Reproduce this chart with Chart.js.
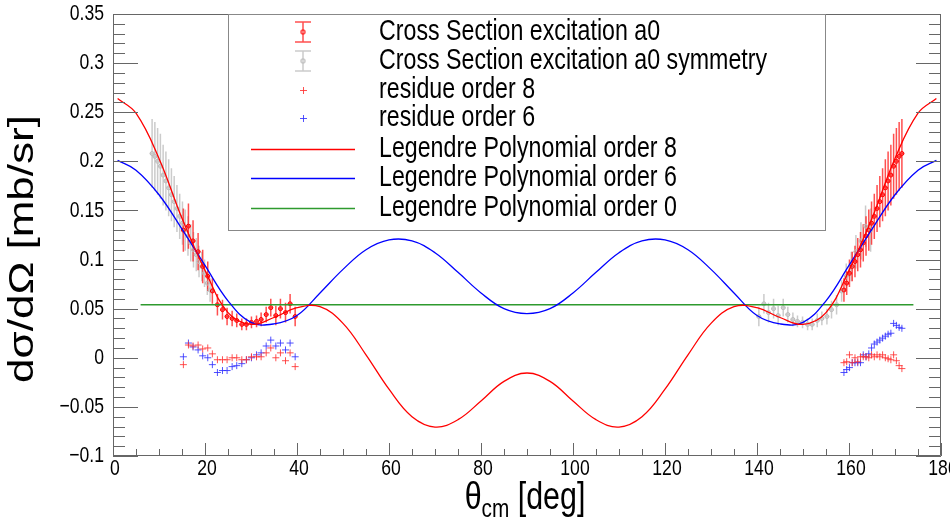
<!DOCTYPE html>
<html>
<head>
<meta charset="utf-8">
<script src="https://cdn.jsdelivr.net/npm/chart.js@4.4.0/dist/chart.umd.min.js"></script>
<style>
  html, body { margin: 0; padding: 0; background: #fff; }
</style>
</head>
<body>
<canvas id="grafico" width="950" height="520"></canvas>
<script>
// curvas de Legendre
const anguloCurva = [1, 5, 10, 15, 20, 25, 30, 35, 40, 45, 50, 55, 60, 65, 70, 75, 80, 85, 90,
  95, 100, 105, 110, 115, 120, 125, 130, 135, 140, 145, 150, 155, 160, 165, 170, 175, 179];
const legendre8 = [0.264, 0.249, 0.203, 0.142, 0.089, 0.046, 0.034, 0.041, 0.051, 0.052, 0.035, 0.003, -0.032, -0.060, -0.0705, -0.063, -0.044, -0.024, -0.0155,
  -0.024, -0.044, -0.063, -0.0705, -0.060, -0.032, 0.003, 0.035, 0.052, 0.051, 0.041, 0.034, 0.046, 0.089, 0.142, 0.203, 0.249, 0.264];
const legendre6 = [0.201, 0.191, 0.166, 0.131, 0.094, 0.058, 0.036, 0.0345, 0.043, 0.066, 0.090, 0.110, 0.120, 0.119, 0.107, 0.087, 0.066, 0.050, 0.045,
  0.050, 0.066, 0.087, 0.107, 0.119, 0.120, 0.110, 0.090, 0.066, 0.043, 0.0345, 0.036, 0.058, 0.094, 0.131, 0.166, 0.191, 0.201];
const anguloOrden0 = [6, 174];
const legendre0 = [0.054, 0.054];

// seccion eficaz, lado izquierdo
const anguloIzq = [15.3, 16.4, 17.4, 18.5, 19.5, 20.6, 21.6, 22.7, 23.8, 24.8, 25.9, 26.9,
  28.0, 29.0, 30.1, 31.2, 32.2, 33.3, 34.3, 35.4, 36.4, 37.5, 38.5, 39.6];
const seccionIzq = [0.130, 0.134, 0.119, 0.108, 0.093, 0.083, 0.068, 0.054, 0.049, 0.042, 0.040, 0.038,
  0.034, 0.034, 0.036, 0.037, 0.039, 0.044, 0.051, 0.043, 0.050, 0.046, 0.055, 0.042];
const errorIzq = [0.022, 0.023, 0.021, 0.019, 0.017, 0.015, 0.013, 0.011, 0.010, 0.009, 0.008, 0.007,
  0.006, 0.006, 0.006, 0.006, 0.007, 0.008, 0.009, 0.010, 0.010, 0.010, 0.010, 0.010];

// seccion eficaz, lado derecho
const anguloDer = [158.9, 159.5, 160.1, 160.7, 161.3, 161.9, 162.5, 163.1, 163.7, 164.3, 164.9,
  165.5, 166.1, 166.7, 167.3, 167.9, 168.5, 169.1, 169.7, 170.3, 170.9, 171.5];
const seccionDer = [0.069, 0.076, 0.086, 0.093, 0.098, 0.105, 0.110, 0.117, 0.124, 0.130, 0.137,
  0.144, 0.152, 0.159, 0.166, 0.173, 0.180, 0.186, 0.195, 0.200, 0.205, 0.208];
const errorDer = [0.012, 0.012, 0.014, 0.015, 0.016, 0.017, 0.018, 0.019, 0.020, 0.021, 0.022,
  0.023, 0.024, 0.026, 0.027, 0.029, 0.030, 0.031, 0.033, 0.034, 0.035, 0.035];

// simetria (gris)
const anguloSimIzq = [8.5, 9.1, 9.7, 10.3, 10.9, 11.5, 12.1, 12.7, 13.3, 13.9, 14.5,
  15.1, 15.7, 16.3, 16.9, 17.5, 18.1, 18.7, 19.3, 19.9, 20.5, 21.1];
const seccionSimIzq = [0.208, 0.205, 0.200, 0.195, 0.186, 0.180, 0.173, 0.166, 0.159, 0.152, 0.144,
  0.137, 0.130, 0.124, 0.117, 0.110, 0.105, 0.098, 0.093, 0.086, 0.076, 0.069];
const errorSimIzq = [0.035, 0.035, 0.034, 0.033, 0.031, 0.030, 0.029, 0.027, 0.026, 0.024, 0.023,
  0.022, 0.021, 0.020, 0.019, 0.018, 0.017, 0.016, 0.015, 0.014, 0.012, 0.012];
const anguloSimDer = [140.4, 141.5, 142.5, 143.6, 144.6, 145.7, 146.7, 147.8, 148.8, 149.9, 151.0, 152.0,
  153.1, 154.1, 155.2, 156.2, 157.3, 158.4, 159.4, 160.5, 161.5, 162.6, 163.6, 164.7];
const seccionSimDer = [0.042, 0.055, 0.046, 0.050, 0.043, 0.051, 0.044, 0.039, 0.037, 0.036, 0.034, 0.034,
  0.038, 0.040, 0.042, 0.049, 0.054, 0.068, 0.083, 0.093, 0.108, 0.119, 0.134, 0.130];
const errorSimDer = [0.010, 0.010, 0.010, 0.010, 0.010, 0.009, 0.008, 0.007, 0.006, 0.006, 0.006, 0.006,
  0.007, 0.007, 0.008, 0.009, 0.010, 0.011, 0.013, 0.015, 0.017, 0.019, 0.021, 0.022];

// residuos
const residuo8Izq = [-0.007, 0.013, 0.012, 0.013, 0.009, 0.010, 0.004, -0.002, -0.002, -0.002, 0.000, 0.000,
  -0.002, -0.002, 0.001, 0.001, 0.001, 0.005, 0.010, 0.000, 0.005, -0.003, 0.005, -0.009];
const residuo6Izq = [0.001, 0.015, 0.011, 0.008, 0.002, 0.000, -0.007, -0.015, -0.013, -0.013, -0.009, -0.008,
  -0.006, -0.002, 0.000, 0.003, 0.005, 0.012, 0.018, 0.012, 0.015, 0.008, 0.015, 0.001];
const residuo8Der = [-0.005, -0.004, 0.003, -0.005, 0.000, -0.004, 0.001, 0.001, 0.001, 0.000, 0.003,
  0.001, 0.003, 0.001, 0.003, 0.000, -0.001, -0.002, 0.003, -0.003, -0.008, -0.011];
const residuo6Der = [-0.015, -0.012, -0.010, -0.005, -0.005, -0.005, -0.005, 0.003, 0.001, 0.004, 0.010,
  0.014, 0.016, 0.018, 0.020, 0.022, 0.024, 0.025, 0.035, 0.033, 0.031, 0.030];

// ejes
const ticksX = [0, 20, 40, 60, 80, 100, 120, 140, 160, 180];
const etiquetasX = ["0", "20", "40", "60", "80", "100", "120", "140", "160", "180"];
const ticksY = [-0.1, -0.05, 0, 0.05, 0.1, 0.15, 0.2, 0.25, 0.3, 0.35];
const etiquetasY = ["\u22120.1", "\u22120.05", "0", "0.05", "0.1", "0.15", "0.2", "0.25", "0.3", "0.35"];

const leyenda = [
  "Cross Section excitation a0",
  "Cross Section excitation a0 symmetry",
  "residue order 8",
  "residue order 6",
  "Legendre Polynomial order 8",
  "Legendre Polynomial order 6",
  "Legendre Polynomial order 0",
];

const rojoBarra = "rgba(255, 20, 20, 0.75)";
const grisBarra = "rgba(190, 190, 190, 0.8)";
const rojoResiduo = "rgba(255, 50, 50, 0.85)";
const azulResiduo = "rgba(50, 50, 255, 0.85)";
const fuente = '"Liberation Sans", Arial, sans-serif';

function puntos(xs, ys) {
  return xs.map((x, i) => ({ x: x, y: ys[i] }));
}

function texto(ctx, str, x, y, size, align, girar) {
  ctx.save();
  ctx.translate(x, y);
  if (girar) {
    ctx.rotate(-Math.PI / 2);
    ctx.scale(1, 0.8);
  } else {
    ctx.scale(0.8, 1);
  }
  ctx.font = `${size}px ${fuente}`;
  ctx.textAlign = align;
  ctx.textBaseline = "middle";
  ctx.fillStyle = "#000";
  ctx.fillText(str, 0, 0);
  ctx.restore();
}

function dibujarErrores(ctx, ex, ey, angulos, valores, errores, color) {
  ctx.save();
  ctx.strokeStyle = color;
  ctx.lineWidth = 1.5;
  angulos.forEach((a, i) => {
    const px = ex.getPixelForValue(a);
    const py = ey.getPixelForValue(valores[i]);
    ctx.beginPath();
    ctx.moveTo(px, ey.getPixelForValue(valores[i] + errores[i]));
    ctx.lineTo(px, ey.getPixelForValue(valores[i] - errores[i]));
    ctx.moveTo(ex.getPixelForValue(a - 0.5), py);
    ctx.lineTo(ex.getPixelForValue(a + 0.5), py);
    ctx.stroke();
  });
  ctx.restore();
}

const estiloRoot = {
  id: "estiloRoot",
  beforeDatasetsDraw(chart) {
    const ctx = chart.ctx;
    const ex = chart.scales.x;
    const ey = chart.scales.y;
    dibujarErrores(ctx, ex, ey, anguloSimIzq, seccionSimIzq, errorSimIzq, grisBarra);
    dibujarErrores(ctx, ex, ey, anguloSimDer, seccionSimDer, errorSimDer, grisBarra);
    dibujarErrores(ctx, ex, ey, anguloIzq, seccionIzq, errorIzq, rojoBarra);
    dibujarErrores(ctx, ex, ey, anguloDer, seccionDer, errorDer, rojoBarra);
  },
  afterDraw(chart) {
    const ctx = chart.ctx;
    const ex = chart.scales.x;
    const ey = chart.scales.y;
    const area = chart.chartArea;

    // marco y ticks
    ctx.save();
    ctx.strokeStyle = "#666";
    ctx.lineWidth = 1;
    ctx.beginPath();
    ctx.rect(area.left + 0.5, area.top + 0.5, area.right - area.left - 1, area.bottom - area.top - 1);
    ctx.stroke();

    ctx.beginPath();
    for (let v = -10; v <= 35; v++) {
      const py = Math.round(ey.getPixelForValue(v / 100)) + 0.5;
      const largo = v % 5 === 0 ? 25 : 12;
      ctx.moveTo(area.left, py);
      ctx.lineTo(area.left + largo, py);
      ctx.moveTo(area.right, py);
      ctx.lineTo(area.right - largo, py);
    }
    for (let a = 0; a <= 180; a += 5) {
      const px = Math.round(ex.getPixelForValue(a)) + 0.5;
      const largo = a % 20 === 0 ? 13 : 7;
      ctx.moveTo(px, area.bottom);
      ctx.lineTo(px, area.bottom - largo);
    }
    ctx.stroke();
    ctx.restore();

    ticksY.forEach((v, i) => {
      texto(ctx, etiquetasY[i], area.left - 9, ey.getPixelForValue(v), 22, "right", false);
    });
    ticksX.forEach((v, i) => {
      texto(ctx, etiquetasX[i], ex.getPixelForValue(v) + 2, 469, 22, "center", false);
    });

    // titulo eje y
    texto(ctx, "d\u03c3/d\u03a9 [mb/sr]", 23, 249, 44, "center", true);

    // titulo eje x con subindice
    ctx.save();
    const grande = `38px ${fuente}`;
    const chico = `26px ${fuente}`;
    ctx.font = grande;
    const w1 = ctx.measureText("\u03b8").width * 0.8;
    const w3 = ctx.measureText(" [deg]").width * 0.8;
    ctx.font = chico;
    const w2 = ctx.measureText("cm").width * 0.8;
    const x0 = (area.left + area.right) / 2 - (w1 + w2 + w3) / 2 - 2;
    const base = 509;
    ctx.fillStyle = "#000";
    ctx.textBaseline = "alphabetic";
    ctx.textAlign = "left";
    const pieza = (s, f, x, y) => {
      ctx.save();
      ctx.translate(x, y);
      ctx.scale(0.8, 1);
      ctx.font = f;
      ctx.fillText(s, 0, 0);
      ctx.restore();
    };
    pieza("\u03b8", grande, x0, base);
    pieza("cm", chico, x0 + w1, base + 8);
    pieza(" [deg]", grande, x0 + w1 + w2, base);
    ctx.restore();

    // leyenda
    ctx.save();
    ctx.fillStyle = "#fff";
    ctx.fillRect(228, 14, 597, 216);
    ctx.strokeStyle = "#888";
    ctx.lineWidth = 1;
    ctx.strokeRect(228.5, 14.5, 597, 216);
    const filas = [32, 61, 90, 118, 149, 178, 208];
    const simbolos = [
      { tipo: "barra", color: rojoBarra },
      { tipo: "barra", color: grisBarra },
      { tipo: "cruz", color: rojoResiduo },
      { tipo: "cruz", color: azulResiduo },
      { tipo: "linea", color: "#ff0000" },
      { tipo: "linea", color: "#0000ff" },
      { tipo: "linea", color: "#2e9a2e" },
    ];
    simbolos.forEach((s, i) => {
      const y = filas[i];
      ctx.strokeStyle = s.color;
      ctx.beginPath();
      if (s.tipo === "barra") {
        ctx.lineWidth = 1.5;
        ctx.moveTo(303, y - 10);
        ctx.lineTo(303, y + 10);
        ctx.moveTo(295, y - 10);
        ctx.lineTo(311, y - 10);
        ctx.moveTo(295, y + 10);
        ctx.lineTo(311, y + 10);
        ctx.stroke();
        ctx.beginPath();
        ctx.arc(303, y, 2, 0, Math.PI * 2);
      } else if (s.tipo === "cruz") {
        ctx.lineWidth = 1;
        ctx.moveTo(300, y + 0.5);
        ctx.lineTo(307, y + 0.5);
        ctx.moveTo(303.5, y - 3);
        ctx.lineTo(303.5, y + 4);
      } else {
        ctx.lineWidth = 1.3;
        ctx.moveTo(251, y + 0.5);
        ctx.lineTo(355, y + 0.5);
      }
      ctx.stroke();
      texto(ctx, leyenda[i], 379, y, 29, "left", false);
    });
    ctx.restore();
  },
};

const ctx = document.getElementById("grafico").getContext("2d");

new Chart(ctx, {
  type: "scatter",
  data: {
    datasets: [
      {
        label: leyenda[4],
        data: puntos(anguloCurva, legendre8),
        showLine: true,
        borderColor: "#ff0000",
        borderWidth: 1.3,
        pointRadius: 0,
        tension: 0.4,
        order: 0,
      },
      {
        label: leyenda[5],
        data: puntos(anguloCurva, legendre6),
        showLine: true,
        borderColor: "#0000ff",
        borderWidth: 1.3,
        pointRadius: 0,
        tension: 0.4,
        order: 1,
      },
      {
        label: leyenda[6],
        data: puntos(anguloOrden0, legendre0),
        showLine: true,
        borderColor: "#2e9a2e",
        borderWidth: 1.3,
        pointRadius: 0,
        order: 2,
      },
      {
        label: leyenda[2],
        data: puntos(anguloIzq, residuo8Izq).concat(puntos(anguloDer, residuo8Der)),
        pointStyle: "cross",
        pointRadius: 3.5,
        borderWidth: 1,
        borderColor: rojoResiduo,
        order: 3,
      },
      {
        label: leyenda[3],
        data: puntos(anguloIzq, residuo6Izq).concat(puntos(anguloDer, residuo6Der)),
        pointStyle: "cross",
        pointRadius: 3.5,
        borderWidth: 1,
        borderColor: azulResiduo,
        order: 4,
      },
      {
        label: leyenda[0],
        data: puntos(anguloIzq, seccionIzq).concat(puntos(anguloDer, seccionDer)),
        pointStyle: "circle",
        pointRadius: 2,
        borderWidth: 1,
        borderColor: "#ff0000",
        backgroundColor: "rgba(255, 0, 0, 0.3)",
        order: 5,
      },
      {
        label: leyenda[1],
        data: puntos(anguloSimIzq, seccionSimIzq).concat(puntos(anguloSimDer, seccionSimDer)),
        pointStyle: "circle",
        pointRadius: 2,
        borderWidth: 1,
        borderColor: "#bbbbbb",
        backgroundColor: "rgba(200, 200, 200, 0.3)",
        order: 6,
      },
    ],
  },
  options: {
    responsive: false,
    animation: false,
    layout: {
      padding: { left: 113, right: 9, top: 14, bottom: 64 },
    },
    scales: {
      x: { type: "linear", min: 0, max: 180, display: false },
      y: { type: "linear", min: -0.1, max: 0.35, display: false },
    },
    plugins: {
      legend: { display: false },
      tooltip: { enabled: false },
    },
  },
  plugins: [estiloRoot],
});
</script>
</body>
</html>
